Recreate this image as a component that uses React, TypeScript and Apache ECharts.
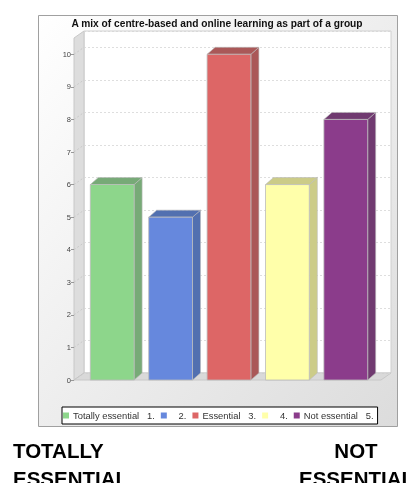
import React, { useEffect, useRef } from "react";
import * as echarts from "echarts";

const seriesNames = ["Totally essential   1.", "   2.", "Essential   3.", "   4.", "Not essential   5."];
const categories = ["1", "2", "3", "4", "5"];
const values = [6, 5, 10, 6, 8];
const yTicks = [0, 1, 2, 3, 4, 5, 6, 7, 8, 9, 10];
const frontColors = ["#8dd68b", "#6688dd", "#dd6666", "#ffffaa", "#8b3c8b"];
const sideColors = ["#77aa77", "#5270b0", "#aa5858", "#cccc88", "#703a70"];
const titleText = "A mix of centre-based and online learning as part of a group";

const DX = 8;
const DY = 7;

export default function App() {
  const ref = useRef<HTMLDivElement>(null);
  useEffect(() => {
    if (!ref.current) return;
    const chart = echarts.init(ref.current, undefined, { renderer: "svg" });

    const barSeries = seriesNames.map((name, i) => ({
      name,
      type: "custom",
      xAxisIndex: 0,
      yAxisIndex: 0,
      itemStyle: { color: frontColors[i] },
      data: [[i, values[i]]],
      renderItem: (params: any, api: any) => {
        const idx = api.value(0);
        const v = api.value(1);
        const base = api.coord([idx, 0]);
        const top = api.coord([idx, v]);
        const w = api.size([1, 0])[0] * 0.75;
        const x0 = base[0] - w / 2;
        const x1 = base[0] + w / 2;
        const yt = top[1];
        const yb = base[1];
        return {
          type: "group",
          children: [
            {
              type: "polygon",
              shape: { points: [[x1, yt], [x1 + DX, yt - DY], [x1 + DX, yb - DY], [x1, yb]] },
              style: { fill: sideColors[i], stroke: "#bbbbbb", lineWidth: 0.6 },
            },
            {
              type: "polygon",
              shape: { points: [[x0, yt], [x0 + DX, yt - DY], [x1 + DX, yt - DY], [x1, yt]] },
              style: { fill: sideColors[i], stroke: "#bbbbbb", lineWidth: 0.6 },
            },
            {
              type: "rect",
              shape: { x: x0, y: yt, width: w, height: yb - yt },
              style: { fill: frontColors[i], stroke: "#bbbbbb", lineWidth: 0.8 },
            },
          ],
        };
      },
    }));

    const wallLines = {
      name: "wall",
      type: "custom",
      xAxisIndex: 0,
      yAxisIndex: 0,
      silent: true,
      z: 1,
      data: yTicks.map((t) => [0, t]),
      renderItem: (params: any, api: any) => {
        const p = api.coord([0, api.value(1)]);
        return {
          type: "line",
          shape: { x1: 74, y1: p[1], x2: 84, y2: p[1] - DY },
          style: { stroke: "#c4c4c4", lineWidth: 0.8, lineDash: [2, 2] },
        };
      },
    };

    const capStyle = {
      fontFamily: "Liberation Sans",
      fontWeight: "bold",
      fontSize: 20.5,
      fill: "#000000",
      verticalAlign: "middle",
    };

    chart.setOption({
      animation: false,
      graphic: [
        {
          type: "rect",
          z: -10,
          shape: { x: 38.5, y: 15.5, width: 359, height: 411 },
          style: {
            fill: new echarts.graphic.LinearGradient(0, 0, 1, 1, [
              { offset: 0, color: "#ffffff" },
              { offset: 1, color: "#dcdcdc" },
            ]),
            stroke: "#a0a0a0",
            lineWidth: 1,
          },
        },
        {
          type: "rect",
          z: -9,
          shape: { x: 84, y: 31, width: 307, height: 342 },
          style: { fill: "#ffffff", stroke: "#d0d0d0", lineWidth: 1 },
        },
        {
          type: "polygon",
          z: -8,
          shape: { points: [[74, 38], [84, 31], [84, 373], [74, 380]] },
          style: { fill: "#dddddd", stroke: "#c8c8c8", lineWidth: 1 },
        },
        {
          type: "polygon",
          z: -8,
          shape: { points: [[74, 380], [84, 373], [391, 373], [381, 380]] },
          style: { fill: "#d9d9d9", stroke: "#c8c8c8", lineWidth: 1 },
        },
        {
          type: "text",
          x: 217,
          y: 23,
          style: {
            text: titleText,
            fontFamily: "Liberation Sans",
            fontWeight: "bold",
            fontSize: 10.2,
            fill: "#111111",
            align: "center",
            verticalAlign: "middle",
          },
        },
        { type: "text", x: 13, y: 450, style: { ...capStyle, text: "TOTALLY", align: "left" } },
        { type: "text", x: 13, y: 478, style: { ...capStyle, text: "ESSENTIAL", align: "left" } },
        { type: "text", x: 356, y: 450, style: { ...capStyle, text: "NOT", align: "center" } },
        { type: "text", x: 299, y: 478, style: { ...capStyle, text: "ESSENTIAL", align: "left" } },
      ],
      legend: {
        data: seriesNames,
        left: 62,
        top: 407,
        width: 330,
        orient: "horizontal",
        icon: "rect",
        itemWidth: 6,
        itemHeight: 6,
        itemGap: 6,
        padding: [4, 4, 4, 1],
        backgroundColor: "#ffffff",
        borderColor: "#000000",
        borderWidth: 1,
        borderRadius: 0,
        selectedMode: false,
        textStyle: { fontFamily: "Liberation Sans", fontSize: 9.4, color: "#333333", padding: [0, 0, 0, -1] },
      },
      grid: [
        { left: 83, right: 39, top: 38, bottom: 103 },
        { left: 84, right: 23, top: 31, bottom: 110 },
      ],
      xAxis: [
        { type: "category", gridIndex: 0, data: categories, show: false },
        { type: "category", gridIndex: 1, data: categories, show: false },
      ],
      yAxis: [
        {
          type: "value",
          gridIndex: 0,
          min: 0,
          max: 10.5,
          interval: 1,
          offset: 9,
          axisLine: { show: false },
          axisTick: { show: true, length: 3, customValues: yTicks, lineStyle: { color: "#999999" } },
          splitLine: { show: false },
          axisLabel: {
            margin: 3,
            customValues: yTicks,
            fontFamily: "Liberation Sans",
            fontSize: 7.5,
            color: "#444444",
            formatter: (v: number) => (Number.isInteger(v) ? String(v) : ""),
          },
        },
        {
          type: "value",
          gridIndex: 1,
          min: 0,
          max: 10.5,
          interval: 1,
          axisLine: { show: false },
          axisTick: { show: false },
          axisLabel: { show: false },
          splitLine: { show: true, lineStyle: { color: "#d6d6d6", type: [2, 2], width: 0.8 } },
        },
      ],
      series: [wallLines, ...barSeries],
    });
    return () => chart.dispose();
  }, []);
  return (
    <div
      ref={ref}
      style={{ position: "fixed", left: 0, top: 0, width: 414, height: 483 }}
    />
  );
}
